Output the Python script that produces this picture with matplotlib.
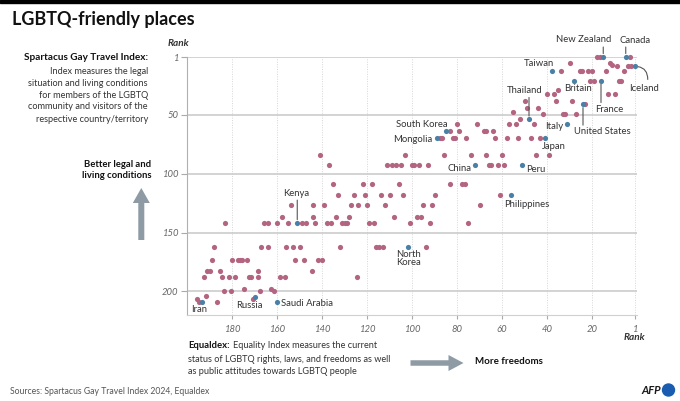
import matplotlib.pyplot as plt
from matplotlib.patches import FancyArrow, Circle, Rectangle

plt.rcParams['font.family'] = ['Lato', 'DejaVu Sans']

PINK = '#b26480'
BLUE = '#4a80a6'
GREY_TXT = '#666666'
ARROW = '#8e9ba5'

# Equaldex rank (x) vs Spartacus rank (y), countries without label, row by row
other_equaldex = [
    18, 16.5, 3,
    30, 12, 11, 9, 4, 2.5,
    34, 25.5, 24.5, 22, 20, 14, 6,
    21, 19, 8, 7,
    35, 40, 37, 13, 10,
    50, 36, 29, 23, 49, 44,
    55, 42, 33, 32, 27, 52,
    80, 71, 57, 54, 46,
    83, 79, 68, 67, 64,
    87.5, 86.5, 82, 81, 76, 63, 58, 53, 47, 43,
    141, 103, 86, 74, 67, 60, 45, 39,
    137, 111, 109, 107, 105, 100, 99, 97, 93, 66, 65, 62, 59,
    135, 122, 118, 106, 83, 78, 76.5,
    133, 126, 121, 114, 110, 104, 90, 61,
    154, 144, 139, 127, 124, 120, 112, 95, 91, 70,
    158, 144, 134, 128, 108, 98, 96,
    183, 166, 164, 160, 155, 149, 147, 143, 138, 136, 131, 130, 129, 119, 117, 101, 92, 75,
    188, 167, 164, 156, 153, 150, 132, 116, 114.5, 113, 94,
    189, 180, 177.5, 176.5, 175.5, 173.5, 152, 148, 142, 140,
    191, 190, 185.5, 168.5, 144.5,
    192.5, 184.5, 181.5, 178.5, 172.5, 171.5, 168.5, 158.5, 156.5, 124.5,
    174.5, 162.5, 183.5, 180.5, 167.5, 161.5,
    191.5, 195.5, 170.5, 194.5, 186.5,
]
other_spartacus = [
    1, 1, 1,
    6, 6, 8, 9, 9, 9,
    13, 13, 13, 13, 13, 13, 13,
    21, 21, 21, 21,
    29, 32, 32, 32, 32,
    38, 38, 38, 41, 44, 44,
    48, 49, 49, 49, 49, 54,
    58, 58, 58, 58, 58,
    64, 64, 64, 64, 64,
    70, 70, 70, 70, 70, 70, 70, 70, 70, 70,
    84, 84, 84, 84, 84, 84, 84, 84,
    93, 93, 93, 93, 93, 93, 93, 93, 93, 93, 93, 93, 93,
    109, 109, 109, 109, 109, 109, 109,
    118, 118, 118, 118, 118, 118, 118, 118,
    127, 127, 127, 127, 127, 127, 127, 127, 127, 127,
    137, 137, 137, 137, 137, 137, 137,
    142, 142, 142, 142, 142, 142, 142, 142, 142, 142, 142, 142, 142, 142, 142, 142, 142, 142,
    162, 162, 162, 162, 162, 162, 162, 162, 162, 162, 162,
    173, 173, 173, 173, 173, 173, 173, 173, 173, 173,
    183, 183, 183, 183, 183,
    188, 188, 188, 188, 188, 188, 188, 188, 188, 188,
    198, 198, 200, 200, 200, 200,
    204, 206, 206, 209, 209,
]

hl_names = ['New Zealand', 'Canada', 'Iceland', 'Taiwan', 'Britain', 'France',
            'United States', 'Thailand', 'Italy', 'South Korea', 'Mongolia',
            'Japan', 'China', 'Peru', 'Philippines', 'Kenya', 'North Korea',
            'Russia', 'Saudi Arabia', 'Iran']
hl_equaldex = [15, 5, 1, 38, 28, 16, 24, 48, 31, 85, 89, 41, 72, 51, 56, 151, 102, 170, 160, 193.5]
hl_spartacus = [1, 1, 9, 13, 21, 21, 41, 54, 58, 64, 70, 70, 93, 93, 118, 142, 162, 204.5, 209, 209]

xticks = [180, 160, 140, 120, 100, 80, 60, 40, 20, 1]
yticks = [1, 50, 100, 150, 200]

# label placement, offsets in pixels from the dot
label_pos = {
    'New Zealand': (-19.7, 17.3, 'center'),
    'Canada': (9, 17, 'center'),
    'Iceland': (-6, -21.7, 'left'),
    'Taiwan': (2.3, 7.4, 'right'),
    'Britain': (-9.7, -8, 'left'),
    'France': (8.5, -29, 'center'),
    'United States': (19.5, -27.7, 'center'),
    'Thailand': (-4.8, 28.6, 'center'),
    'Italy': (-4.4, -2.4, 'right'),
    'South Korea': (1.7, 7, 'right'),
    'Mongolia': (-4.8, -1.7, 'right'),
    'Japan': (-3.3, -8, 'left'),
    'China': (-3.3, -3.4, 'right'),
    'Peru': (3.7, -4, 'left'),
    'Philippines': (-6.6, -9.6, 'left'),
    'Kenya': (-1.4, 29.7, 'center'),
    'North Korea': (-11.3, -12, 'left'),
    'Russia': (-4.8, -8.4, 'center'),
    'Saudi Arabia': (4, -1, 'left'),
    'Iran': (-10.3, -7, 'left'),
}
leaders = {'New Zealand': 10, 'Canada': 10, 'France': -22, 'United States': -21,
           'Thailand': 22, 'Kenya': 23}

W, H = 680, 401


def fx(px):
    return px / W


def fy(py):
    return 1 - py / H


fig = plt.figure(figsize=(6.8, 4.01), dpi=100)
ax = fig.add_axes([fx(187), fy(315), 450 / W, 258 / H])

ax.scatter(other_equaldex, other_spartacus, s=14, color=PINK, lw=0, zorder=3, clip_on=False)
ax.scatter(hl_equaldex, hl_spartacus, s=14, color=BLUE, lw=0, zorder=4, clip_on=False)

for name, x, y in zip(hl_names, hl_equaldex, hl_spartacus):
    dx, dy, ha = label_pos[name]
    text = 'North\nKorea' if name == 'North Korea' else name
    ax.annotate(text, (x, y), xytext=(dx, dy), textcoords='offset pixels',
                ha=ha, va='center', fontsize=6.8, color='#333333', linespacing=0.95)
    if name in leaders:
        ax.annotate('', (x, y), xytext=(0, leaders[name]), textcoords='offset pixels',
                    arrowprops=dict(arrowstyle='-', color='#555555', lw=0.8,
                                    shrinkA=0, shrinkB=2.5))
    if name == 'Iceland':
        ax.annotate('', (x, y), xytext=(13, -13), textcoords='offset pixels',
                    arrowprops=dict(arrowstyle='-', color='#555555', lw=0.8,
                                    shrinkA=0, shrinkB=2.5,
                                    connectionstyle='angle3,angleA=90,angleB=0'))

ax.set_xlim(200, 0)
ax.set_ylim(220, 1)
ax.set_xticks(xticks)
ax.set_xticklabels([str(t) for t in xticks])
ax.set_yticks(yticks)
ax.set_yticklabels([str(t) for t in yticks])
for lab in ax.get_xticklabels() + ax.get_yticklabels():
    lab.set_fontstyle('italic')
ax.tick_params(axis='both', labelsize=6.8, labelcolor=GREY_TXT, color='#aaaaaa')
ax.tick_params(axis='y', length=4, width=0.8, pad=2)
ax.tick_params(axis='x', length=3, width=0.8, pad=4)

ax.yaxis.grid(True, color='#c8c8c8', lw=1.1)
ax.xaxis.grid(True, color='#d6d6d6', lw=0.7, linestyle=(0, (1, 1.5)))
ax.set_axisbelow(True)
for side in ['top', 'right']:
    ax.spines[side].set_visible(False)
ax.spines['left'].set_color('#b0b0b0')
ax.spines['bottom'].set_color('#d0d0d0')

# top black bar and title
fig.patches.append(Rectangle((0, fy(3)), 1, 3 / H, transform=fig.transFigure,
                             color='black'))
fig.text(fx(12), fy(20), 'LGBTQ-friendly places', fontsize=13, fontweight='bold',
         va='center', ha='left', color='#111111')

fig.text(fx(168), fy(43), 'Rank', fontsize=7.2, fontstyle='italic', fontweight='bold',
         color='#333333', va='center')
fig.text(fx(645), fy(338), 'Rank', fontsize=7.2, fontstyle='italic', fontweight='bold',
         color='#333333', va='center', ha='right')

# left explanation
fig.text(fx(148), fy(58), 'Spartacus Gay Travel Index:', fontsize=7.2, fontweight='bold',
         ha='right', va='center', color='#111111')
left_lines = ['Index measures the legal', 'situation and living conditions',
              'for members of the LGBTQ', 'community and visitors of the',
              'respective country/territory']
for i, line in enumerate(left_lines):
    fig.text(fx(148), fy(71 + 12 * i), line, fontsize=6.6, ha='right', va='center',
             color='#333333')

fig.text(fx(151), fy(164), 'Better legal and', fontsize=6.8, fontweight='bold',
         ha='right', va='center', color='#111111')
fig.text(fx(151), fy(176), 'living conditions', fontsize=6.8, fontweight='bold',
         ha='right', va='center', color='#111111')
fig.patches.append(FancyArrow(1.413, (H - 240) / 100, 0, 0.52, width=0.06,
                              head_width=0.17, head_length=0.15,
                              length_includes_head=True, color=ARROW, lw=0,
                              transform=fig.dpi_scale_trans))

# bottom explanation
renderer = fig.canvas.get_renderer()
t = fig.text(fx(188), fy(346), 'Equaldex:', fontsize=6.8, fontweight='bold',
             ha='left', va='center', color='#111111')
bb = t.get_window_extent(renderer)
fig.text(fx(bb.x1 + 3), fy(346), 'Equality Index measures the current', fontsize=6.6,
         ha='left', va='center', color='#333333')
fig.text(fx(188), fy(359), 'status of LGBTQ rights, laws, and freedoms as well',
         fontsize=6.6, ha='left', va='center', color='#333333')
fig.text(fx(188), fy(371), 'as public attitudes towards LGBTQ people', fontsize=6.6,
         ha='left', va='center', color='#333333')

fig.patches.append(FancyArrow(4.105, (H - 363) / 100, 0.53, 0, width=0.055,
                              head_width=0.16, head_length=0.15,
                              length_includes_head=True, color=ARROW, lw=0,
                              transform=fig.dpi_scale_trans))
fig.text(fx(475), fy(362), 'More freedoms', fontsize=7, fontweight='bold',
         ha='left', va='center', color='#111111')

fig.text(fx(10), fy(391), 'Sources: Spartacus Gay Travel Index 2024, Equaldex',
         fontsize=6.2, ha='left', va='center', color='#555555')
fig.text(fx(661), fy(390), 'AFP', fontsize=8, fontweight='bold', fontstyle='italic',
         ha='right', va='center', color='#1a1a1a')
fig.patches.append(Circle((6.685, (H - 390) / 100), 0.06, color='#1a5db0',
                          transform=fig.dpi_scale_trans))

fig.savefig('out.png', dpi=100)
